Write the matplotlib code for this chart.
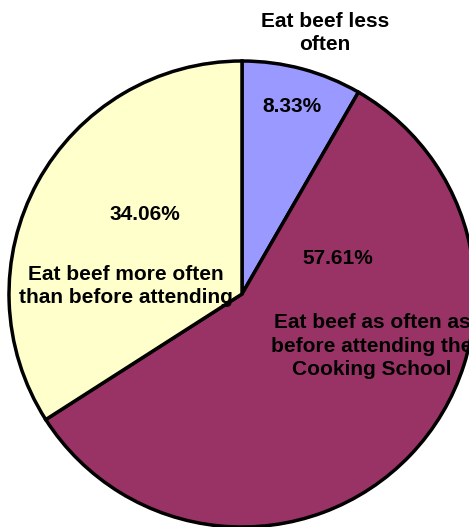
import matplotlib.pyplot as plt

plt.rcParams['font.family'] = ['Liberation Sans', 'DejaVu Sans']

# slice data, clockwise from 12 o'clock
shares = [8.33, 57.61, 34.06]
names = ["Eat beef less\noften",
         "Eat beef as often as\nbefore attending the\nCooking School",
         "Eat beef more often\nthan before attending"]
colors = ["#9999FF", "#993366", "#FFFFCC"]

W, H = 469, 527

fig = plt.figure(figsize=(W / 100, H / 100), dpi=100)
ax = fig.add_axes([0, 0, 1, 1])

# pie centre/radius in pixel units (y measured from top of image)
cx, cy, r = 242, 294, 233

ax.pie(shares, colors=colors, startangle=90, counterclock=False,
       center=(cx, H - cy), radius=r, frame=True,
       wedgeprops=dict(edgecolor="black", linewidth=2.5))

ax.set_xlim(0, W)
ax.set_ylim(0, H)
ax.set_aspect("auto")
ax.axis("off")

# label positions (pixels from top-left)
pct_pos = [(292, 107), (338, 258), (145, 215)]
name_pos = [(325, 33), (372, 346), (126, 286)]

fs = 15
for val, name, (px, py), (nx, ny) in zip(shares, names, pct_pos, name_pos):
    ax.text(px, H - py, f"{val:.2f}%", ha="center", va="center",
            fontsize=fs, fontweight="bold", color="black")
    ax.text(nx, H - ny, name, ha="center", va="center",
            fontsize=fs, fontweight="bold", color="black", linespacing=1.3)

fig.savefig("out.png", dpi=100)
